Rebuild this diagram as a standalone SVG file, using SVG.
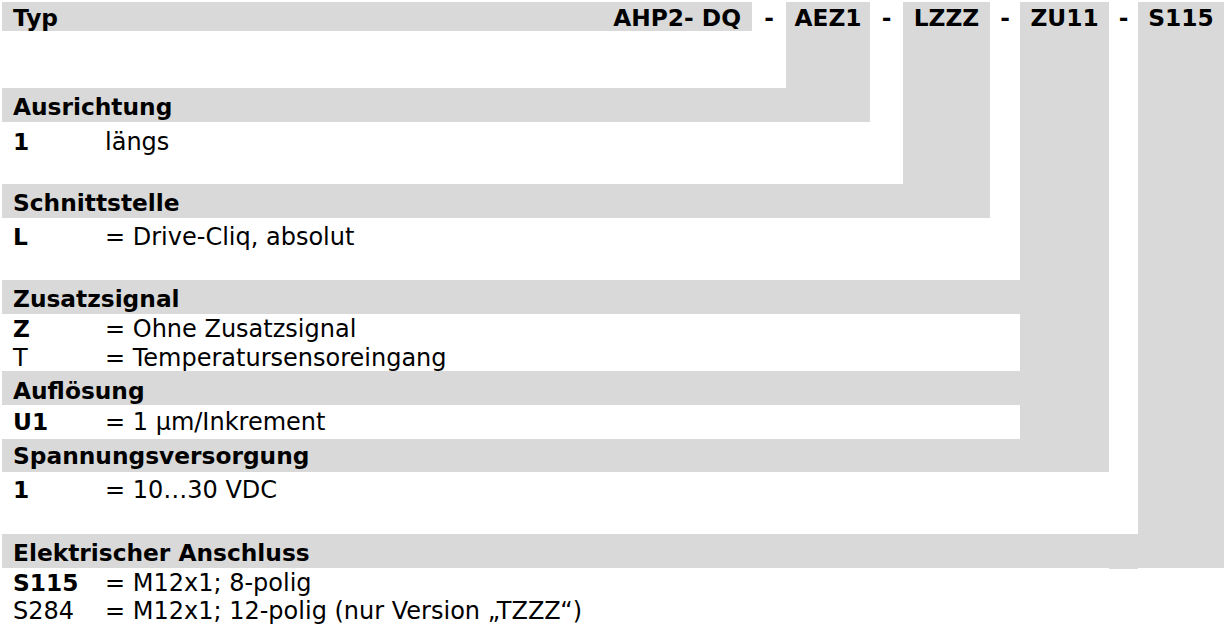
<svg xmlns="http://www.w3.org/2000/svg" width="1225" height="633" viewBox="0 0 1225 633">
<style>
.g{fill:#d9d9d9}
.h{font-family:"DejaVu Sans","Verdana",sans-serif;font-weight:bold;font-size:23.3px;fill:#000}
.t{font-family:"DejaVu Sans","Verdana",sans-serif;font-size:24px;fill:#000}
.m{text-anchor:middle}
</style>
<rect width="1225" height="633" fill="#fff"/>
<g id="connectors">
<rect class="g" x="786" y="2" width="84" height="120"/>
<rect class="g" x="903" y="2" width="87" height="216"/>
<rect class="g" x="1020" y="2" width="89" height="470"/>
<rect class="g" x="1138" y="2" width="86" height="566"/>
<rect class="g" x="1109" y="534" width="29" height="35"/>
</g>
<g id="typ">
<rect class="g" x="2" y="2" width="750" height="29"/>
<text class="h" x="13" y="26">Typ</text>
<text class="h" x="741" y="26" text-anchor="end">AHP2- DQ</text>
<text class="h m" x="769" y="26">-</text>
<text class="h m" x="828" y="26">AEZ1</text>
<text class="h m" x="886.5" y="26">-</text>
<text class="h m" x="946.5" y="26">LZZZ</text>
<text class="h m" x="1005" y="26">-</text>
<text class="h m" x="1064.5" y="26">ZU11</text>
<text class="h m" x="1123.5" y="26">-</text>
<text class="h m" x="1181" y="26">S115</text>
</g>
<g id="ausrichtung">
<rect class="g" x="2" y="88" width="868" height="34"/>
<text class="h" x="13" y="115">Ausrichtung</text>
<text class="h" x="13" y="150">1</text>
<text class="t" x="105" y="150">längs</text>
</g>
<g id="schnittstelle">
<rect class="g" x="2" y="184" width="988" height="34"/>
<text class="h" x="13" y="211">Schnittstelle</text>
<text class="h" x="13" y="245">L</text>
<text class="t" x="105" y="245">= Drive-Cliq, absolut</text>
</g>
<g id="zusatzsignal">
<rect class="g" x="2" y="280" width="1018" height="34"/>
<text class="h" x="13" y="307">Zusatzsignal</text>
<text class="h" x="13" y="337">Z</text>
<text class="t" x="105" y="337">= Ohne Zusatzsignal</text>
<text class="t" x="13" y="366">T</text>
<text class="t" x="105" y="366">= Temperatursensoreingang</text>
</g>
<g id="aufloesung">
<rect class="g" x="2" y="371" width="1018" height="34"/>
<text class="h" x="13" y="399">Auflösung</text>
<text class="h" x="13" y="430">U1</text>
<text class="t" x="105" y="430">= 1 µm/Inkrement</text>
</g>
<g id="spannungsversorgung">
<rect class="g" x="2" y="439" width="1107" height="33"/>
<text class="h" x="13" y="464">Spannungsversorgung</text>
<text class="h" x="13" y="498">1</text>
<text class="t" x="105" y="498">= 10…30 VDC</text>
</g>
<g id="elektrischer-anschluss">
<rect class="g" x="2" y="534" width="1222" height="34"/>
<text class="h" x="13" y="561">Elektrischer Anschluss</text>
<text class="h" x="13" y="591">S115</text>
<text class="t" x="105" y="591">= M12x1; 8-polig</text>
<text class="t" x="13" y="619">S284</text>
<text class="t" x="105" y="619">= M12x1; 12-polig (nur Version „TZZZ“)</text>
</g>
</svg>
